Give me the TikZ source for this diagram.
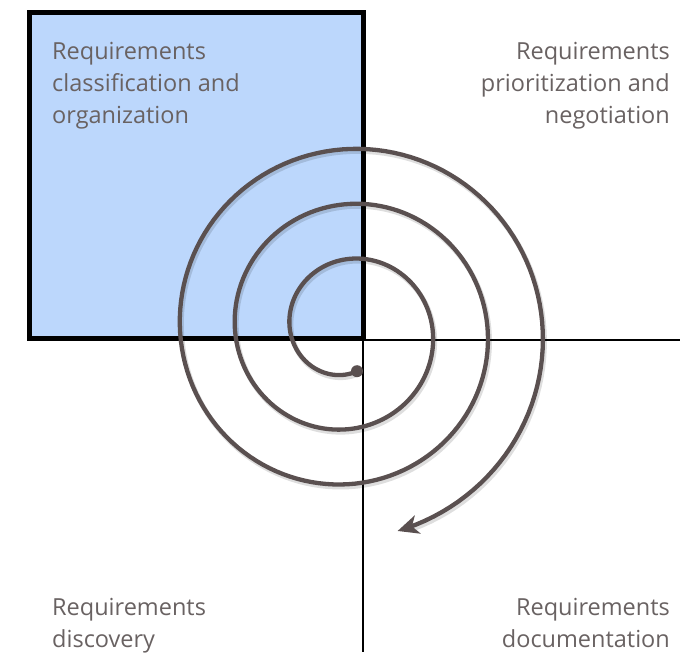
\documentclass[tikz,border=0pt]{standalone}
\usepackage{fontspec}
\setmainfont{Open Sans}
\usepackage{xcolor}
\usepackage{tikz}
\usetikzlibrary{arrows.meta}

\definecolor{boxblue}{RGB}{188,215,252}
\definecolor{spiralgray}{RGB}{90,80,80}
\definecolor{textgray}{RGB}{105,98,98}

\tikzset{
  phase/.style={inner sep=0pt,text=textgray,font=\fontsize{23.5}{32}\selectfont},
  spiral/.style={line width=4.3pt,draw=spiralgray}
}

\begin{document}
\begin{tikzpicture}[x=1pt,y=1pt]

  \useasboundingbox (0,0) rectangle (700,656);

  \filldraw[draw=black,fill=boxblue,line width=5pt] (29.5,643) rectangle (363,317);
  \draw[line width=2pt] (45,316) -- (680,316);
  \draw[line width=2pt] (363,643) -- (363,4);
  \draw[line width=5pt] (363,643) -- (363,317) -- (29.5,317);

  % shadow, then the spiral itself
  \draw[line width=5pt,black,opacity=0.13,shift={(1.5,-2.5)}] plot[domain=-13:1062,samples=400]
    ({347.6+(43.85+0.15279*\x)*cos(-90-\x)},{325.6+(43.85+0.15279*\x)*sin(-90-\x)});
  \draw[spiral,-{Stealth[length=21pt,width=19pt,inset=6pt]}] plot[domain=-13:1066,samples=400]
    ({347.6+(43.85+0.15279*\x)*cos(-90-\x)},{325.6+(43.85+0.15279*\x)*sin(-90-\x)});
  \coordinate (start) at (357,284.8);
  \fill[spiralgray] (start) circle[radius=6];

  \node[phase,anchor=north west,align=left] (classif) at (52,614) {Requirements\\classification and\\organization};
  \node[phase,anchor=north east,align=right] (prior) at (670,614) {Requirements\\prioritization and\\negotiation};
  \node[phase,anchor=north west,align=left] (discov) at (52,58) {Requirements\\discovery};
  \node[phase,anchor=north east,align=right] (docu) at (670,58) {Requirements\\documentation};

\end{tikzpicture}
\end{document}
